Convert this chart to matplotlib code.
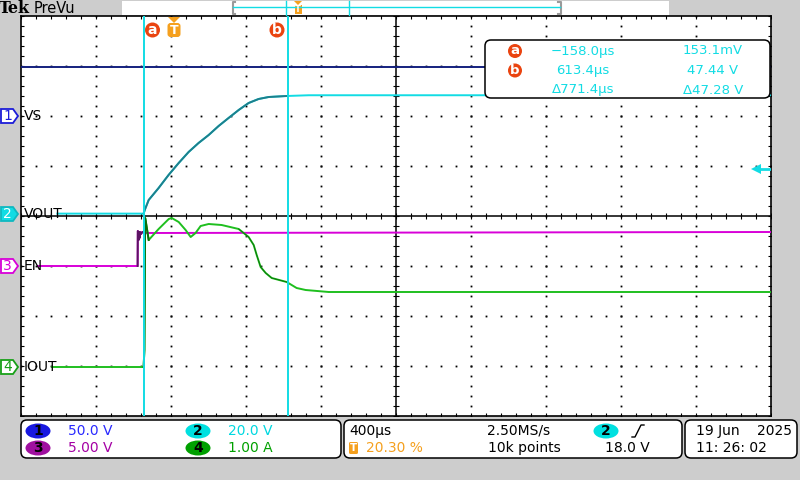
import matplotlib
matplotlib.use('Agg')
import matplotlib.pyplot as plt
from matplotlib.patches import FancyBboxPatch, Ellipse, Polygon, Circle, Rectangle
import numpy as np

# scope settings: 400us/div, trigger position 20.30 %
t_div = 400.0
t_left = -812.0
n_xdiv, n_ydiv = 10, 8

ch_names = ['VS', 'VOUT', 'EN', 'IOUT']
ch_scales = [50.0, 20.0, 5.0, 1.00]      # units per div
ch_offsets = [2.0, 0.04, -1.0, -3.02]    # div
scale_txt = ['50.0 V', '20.0 V', '5.00 V', '1.00 A']

# traces (time in us)
t_vs = [-812, 3188]
v_vs = [49.0, 49.0]

t_vout = [-618, -158, -152, -131, -78, -25, 29, 82, 135, 189, 242, 295, 349,
          402, 455, 509, 605, 722, 3188]
v_vout = [0.15, 0.15, 1.6, 5.6, 10.4, 15.6, 20.4, 24.8, 28.4, 31.6, 35.2, 38.4,
          41.6, 44.4, 46.0, 46.8, 47.2, 47.5, 47.5]

t_en = [-721, -190, -189, -186, -185, -182, -180, -177, -172, -165, -150, 3188]
v_en = [0.0, 0.0, 3.5, 3.4, 2.6, 3.4, 2.8, 3.4, 3.2, 3.4, 3.3, 3.4]

t_iout = [-647, -158, -154, -150, -146, -131, -78, -24, -8, 29, 66, 93, 119, 146,
          189, 258, 349, 402, 429, 445, 466, 493, 525, 605, 658, 706, 829, 3188]
i_iout = [0.0, 0.0, 0.34, 2.98, 2.9, 2.54, 2.76, 2.96, 2.98, 2.9, 2.74, 2.6, 2.68,
          2.82, 2.86, 2.84, 2.76, 2.6, 2.44, 2.24, 2.0, 1.88, 1.78, 1.7, 1.58,
          1.54, 1.5, 1.5]

cursor_t = [-158.0, 613.4]
cursor_v = ['153.1mV', '47.44 V']
trig_level = 18.0

blue = '#14207e'
cyan = '#12dce4'
teal = '#1e7f8c'
mag = '#d800d8'
purple = '#5c1464'
green = '#1fbf1f'
dgreen = '#0b6e0b'
orange = '#f5a01e'
red = '#ea4410'
gray = '#cdcdcd'

plt.rcParams['font.family'] = 'DejaVu Sans'
fig = plt.figure(figsize=(8, 4.8), dpi=100, facecolor=gray)

# graticule area (pixels: x 21..771, y 16..416)
ax = fig.add_axes([21 / 800, 64 / 480, 750 / 800, 400 / 480], zorder=2)
t_right = t_left + n_xdiv * t_div
ax.set_xlim(t_left, t_right)
ax.set_ylim(-4, 4)
ax.set_facecolor('white')
ax.set_xticks([])
ax.set_yticks([])
for s in ax.spines.values():
    s.set_color('black')
    s.set_linewidth(1.2)

minor_x = t_left + np.arange(0, n_xdiv * 5 + 1) * t_div / 5
minor_y = np.arange(-4, 4.01, 0.2)
t_center = t_left + 5 * t_div
for k in range(1, n_xdiv):
    if k == 5:
        continue
    xg = t_left + k * t_div
    ax.plot(np.full(len(minor_y), xg), minor_y, ls='none', marker='s', ms=1.3, mew=0, color='k')
for j in range(-3, 4):
    if j == 0:
        continue
    ax.plot(minor_x, np.full(len(minor_x), j), ls='none', marker='s', ms=1.3, mew=0, color='k')
ax.axvline(t_center, color='k', lw=1.1)
ax.axhline(0, color='k', lw=1.1)
ax.plot(minor_x, np.zeros(len(minor_x)), ls='none', marker='|', ms=5, mew=0.8, color='k')
ax.plot(np.full(len(minor_y), t_center), minor_y, ls='none', marker='_', ms=5, mew=0.8, color='k')
ax.plot(minor_x, np.full(len(minor_x), 4), ls='none', marker='|', ms=4, mew=0.8, color='k')
ax.plot(minor_x, np.full(len(minor_x), -4), ls='none', marker='|', ms=4, mew=0.8, color='k')
ax.plot(np.full(len(minor_y), t_left), minor_y, ls='none', marker='_', ms=4, mew=0.8, color='k')
ax.plot(np.full(len(minor_y), t_right), minor_y, ls='none', marker='_', ms=4, mew=0.8, color='k')


def to_div(vals, ch):
    return ch_offsets[ch] + np.asarray(vals) / ch_scales[ch]


# traces
ax.plot(t_vs, to_div(v_vs, 0), color=blue, lw=1.4, zorder=4)
ax.plot(t_vout, to_div(v_vout, 1), color=cyan, lw=1.4, zorder=4)
ax.plot(t_vout[1:17], to_div(v_vout, 1)[1:17], color=teal, lw=1.4, zorder=4)
ax.plot(t_en, to_div(v_en, 2), color=mag, lw=1.4, zorder=4)
ax.plot(t_en[1:11], to_div(v_en, 2)[1:11], color=purple, lw=1.4, zorder=4)
ax.plot(t_iout, to_div(i_iout, 3), color=green, lw=1.4, zorder=4)
ax.plot(t_iout[1:6], to_div(i_iout, 3)[1:6], color=dgreen, lw=1.4, zorder=4)
ax.plot(t_iout[16:24], to_div(i_iout, 3)[16:24], color=dgreen, lw=0.6, zorder=4)

for c in cursor_t:
    ax.axvline(c, color=cyan, lw=1.4, zorder=6)

# trigger level arrow on right edge
trig_div = ch_offsets[1] + trig_level / ch_scales[1]
ax.plot([t_right - 0.15 * t_div, t_right], [trig_div, trig_div], color=cyan, lw=2, zorder=6)
ax.plot([t_right - 0.2 * t_div], [trig_div], marker='<', ms=7, color=cyan, mew=0, zorder=6)

# overlay in pixel coordinates
ov = fig.add_axes([0, 0, 1, 1], zorder=5)
ov.set_xlim(0, 800)
ov.set_ylim(480, 0)
ov.axis('off')

# top bar
ov.text(-1, 8.5, 'Tek', fontfamily='DejaVu Serif', fontweight='bold', fontsize=11.5, va='center')
ov.text(34, 8.5, 'PreVu', fontsize=10.5, va='center')
ov.add_patch(Rectangle((122, 1), 547, 14, fc='white', ec='none'))
ov.plot([235, 232.5, 232.5, 235], [2, 2, 14, 14], color='#9a9a9a', lw=1.5)
ov.plot([558, 560.5, 560.5, 558], [2, 2, 14, 14], color='#9a9a9a', lw=1.5)
ov.plot([233, 560], [7, 7], color=cyan, lw=1)
ov.plot([286, 286], [1, 15], color=cyan, lw=1)
ov.plot([349, 349], [1, 15], color=cyan, lw=1)
ov.add_patch(Polygon([(294, 1), (302, 1), (298, 5)], fc=orange, ec='none'))
ov.add_patch(Rectangle((294.5, 5), 7, 9, fc=orange, ec='none'))
ov.text(298, 9.5, 'T', color='white', fontsize=6, fontweight='bold', ha='center', va='center')

# cursor and trigger markers at top of graticule
for x, lab in [(152.5, 'a'), (277, 'b')]:
    ov.add_patch(Circle((x, 30), 7.5, fc=red, ec='none'))
    ov.text(x, 29.5, lab, color='white', fontsize=10, fontweight='bold', ha='center', va='center')
ov.add_patch(Polygon([(168, 17), (180, 17), (174, 23)], fc=orange, ec='none'))
ov.add_patch(FancyBboxPatch((167.5, 23), 13, 14, boxstyle='round,pad=0,rounding_size=3', fc=orange, ec='none'))
ov.text(174, 30, 'T', color='white', fontsize=9, fontweight='bold', ha='center', va='center')

# channel markers and labels
marker_fc = ['white', cyan, 'white', 'white']
marker_ec = ['#1c1cd8', '#10b8c0', mag, '#18a018']
digit_c = ['#1c1cd8', 'white', mag, '#18a018']
for i, name in enumerate(ch_names):
    y = 216 - ch_offsets[i] * 50
    ov.add_patch(Polygon([(1, y - 7), (13, y - 7), (18, y), (13, y + 7), (1, y + 7)],
                         fc=marker_fc[i], ec=marker_ec[i], lw=1.3))
    ov.text(7.5, y, str(i + 1), color=digit_c[i], fontsize=10, ha='center', va='center')
    ov.text(24, y, name, color='black', fontsize=10, ha='left', va='center')

# cursor readout box
ov.add_patch(FancyBboxPatch((485, 40), 285, 58, boxstyle='round,pad=0,rounding_size=6',
                            fc='white', ec='black', lw=1.1))
rows = [('a', '\u2212158.0\u00b5s', cursor_v[0]),
        ('b', '613.4\u00b5s', cursor_v[1]),
        (None, '\u0394771.4\u00b5s', '\u039447.28 V')]
for r, (lab, tt, vv) in enumerate(rows):
    y = 51 + r * 19.5
    if lab:
        ov.add_patch(Circle((515, y), 7, fc=red, ec='none'))
        ov.text(515, y - 0.5, lab, color='white', fontsize=9.5, fontweight='bold', ha='center', va='center')
    ov.text(583, y, tt, color=cyan, fontsize=9.5, ha='center', va='center')
    ov.text(713, y, vv, color=cyan, fontsize=9.5, ha='center', va='center')

# bottom status boxes
for x0, w in [(21, 320), (344, 338), (685, 112)]:
    ov.add_patch(FancyBboxPatch((x0, 420), w, 38, boxstyle='round,pad=0,rounding_size=6',
                                fc='white', ec='black', lw=1.1))

ell_fc = ['#1818e0', '#00e0e0', '#a010a0', '#00a000']
txt_c = ['#2a2aff', '#00d8e0', '#a400a4', '#00a000']
for i in range(4):
    x = 38 if i in (0, 2) else 198
    y = 431 if i in (0, 1) else 448
    ov.add_patch(Ellipse((x, y), 25, 15, fc=ell_fc[i], ec='none'))
    ov.text(x, y, str(i + 1), color='black', fontsize=10, fontweight='bold', ha='center', va='center')
    ov.text(x + 30, y, scale_txt[i], color=txt_c[i], fontsize=10, va='center')

ov.text(349, 431, '400\u00b5s', fontsize=10, va='center')
ov.add_patch(FancyBboxPatch((349, 442), 9, 12, boxstyle='round,pad=0,rounding_size=1.5', fc=orange, ec='none'))
ov.text(353.5, 448, 'T', color='white', fontsize=7.5, fontweight='bold', ha='center', va='center')
ov.text(366, 448, '20.30 %', color=orange, fontsize=10, va='center')
ov.text(487, 431, '2.50MS/s', fontsize=10, va='center')
ov.text(488, 448, '10k points', fontsize=10, va='center')
ov.add_patch(Ellipse((606, 431), 25, 15, fc='#00e0e0', ec='none'))
ov.text(606, 431, '2', color='black', fontsize=10, fontweight='bold', ha='center', va='center')
ov.plot([632, 635, 641, 644], [437, 437, 425, 425], color='black', lw=1)
ov.text(650, 448, '18.0 V', fontsize=10, ha='right', va='center')
ov.text(696, 431, '19 Jun', fontsize=10, va='center')
ov.text(792, 431, '2025', fontsize=10, ha='right', va='center')
ov.text(696, 448, '11: 26: 02', fontsize=10, va='center')

fig.savefig('out.png', dpi=100, facecolor=gray)
